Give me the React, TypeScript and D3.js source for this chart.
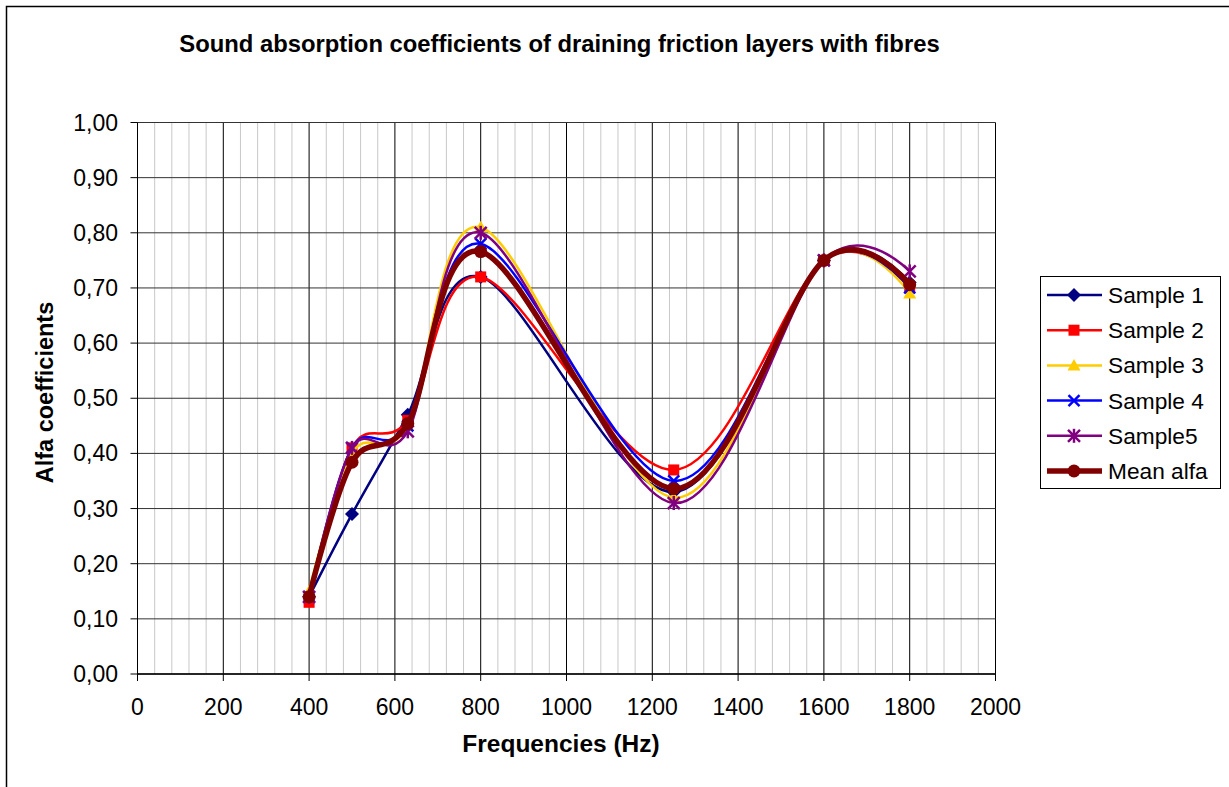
import React from "react";
import * as d3 from "d3";

const frequencies = [400, 500, 630, 800, 1250, 1600, 1800];
const sample1 = [0.14, 0.29, 0.47, 0.72, 0.33, 0.75, 0.71];
const sample2 = [0.13, 0.41, 0.46, 0.72, 0.37, 0.75, 0.70];
const sample3 = [0.15, 0.40, 0.45, 0.81, 0.32, 0.75, 0.69];
const sample4 = [0.14, 0.41, 0.45, 0.78, 0.35, 0.75, 0.70];
const sample5 = [0.14, 0.41, 0.44, 0.80, 0.31, 0.75, 0.73];
const meanAlfa = [0.14, 0.384, 0.454, 0.766, 0.336, 0.75, 0.706];
const seriesNames = ["Sample 1", "Sample 2", "Sample 3", "Sample 4", "Sample5", "Mean alfa"];
const xTicks = [0, 200, 400, 600, 800, 1000, 1200, 1400, 1600, 1800, 2000];
const yTicks = [0, 0.1, 0.2, 0.3, 0.4, 0.5, 0.6, 0.7, 0.8, 0.9, 1.0];

const W = 1229;
const H = 787;
const FONT = "'Liberation Sans', Arial, sans-serif";

const styles = [
  { color: "#000080", marker: "diamond", width: 2.5 },
  { color: "#FF0000", marker: "square", width: 2.5 },
  { color: "#FFCC00", marker: "triangle", width: 2.5 },
  { color: "#0000FF", marker: "x", width: 2.5 },
  { color: "#800080", marker: "star", width: 2.5 },
  { color: "#800000", marker: "circle", width: 5.5 },
];
const allValues = [sample1, sample2, sample3, sample4, sample5, meanAlfa];

function Marker({ type, cx, cy, color }: { type: string; cx: number; cy: number; color: string }) {
  switch (type) {
    case "diamond":
      return <path d={`M${cx},${cy - 7}L${cx + 7},${cy}L${cx},${cy + 7}L${cx - 7},${cy}Z`} fill={color} />;
    case "square":
      return <rect x={cx - 5.5} y={cy - 5.5} width={11} height={11} fill={color} />;
    case "triangle":
      return <path d={`M${cx},${cy - 6.5}L${cx + 6.5},${cy + 5}L${cx - 6.5},${cy + 5}Z`} fill={color} />;
    case "x":
      return (
        <g stroke={color} strokeWidth={2.5}>
          <line x1={cx - 5.5} y1={cy - 5.5} x2={cx + 5.5} y2={cy + 5.5} />
          <line x1={cx - 5.5} y1={cy + 5.5} x2={cx + 5.5} y2={cy - 5.5} />
        </g>
      );
    case "star":
      return (
        <g stroke={color} strokeWidth={2.5}>
          <line x1={cx - 6} y1={cy - 6} x2={cx + 6} y2={cy + 6} />
          <line x1={cx - 6} y1={cy + 6} x2={cx + 6} y2={cy - 6} />
          <line x1={cx} y1={cy - 7} x2={cx} y2={cy + 7} />
        </g>
      );
    default:
      return <circle cx={cx} cy={cy} r={6.5} fill={color} />;
  }
}

export default function App() {
  const x = d3.scaleLinear().domain([0, 2000]).range([137.5, 995.5]);
  const y = d3.scaleLinear().domain([0, 1]).range([674, 122.5]);
  const minorTicks = d3.range(0, 2001, 40).filter((v) => v % 200 !== 0);
  const line = d3
    .line<[number, number]>()
    .x((d) => x(d[0]))
    .y((d) => y(d[1]))
    .curve(d3.curveCardinal.tension(0));
  const fmt = (v: number) => v.toFixed(2).replace(".", ",");
  const legendX = 1040.5;
  const legendY = 276.5;
  const rowY = (i: number) => 295 + i * 35.2;

  return (
    <svg
      width={W}
      height={H}
      style={{ position: "absolute", left: 0, top: 0, background: "#fff" }}
      fontFamily={FONT}
    >
      <rect x={6.5} y={6.5} width={1300} height={900} fill="#fff" stroke="#000" strokeWidth={1.5} />
      <text x={559.5} y={52} textAnchor="middle" fontSize={23.8} fontWeight="bold">
        Sound absorption coefficients of draining friction layers with fibres
      </text>

      {/* plot area */}
      <rect x={x(0)} y={y(1)} width={x(2000) - x(0)} height={y(0) - y(1)} fill="#fff" />
      {minorTicks.map((t) => (
        <line key={"m" + t} x1={x(t)} x2={x(t)} y1={y(0)} y2={y(1)} stroke="#c8c8c8" strokeWidth={1} />
      ))}
      {xTicks.map((t) => (
        <line key={"vx" + t} x1={x(t)} x2={x(t)} y1={y(0)} y2={y(1)} stroke="#000" strokeWidth={1} />
      ))}
      {yTicks.map((t) => (
        <line key={"hy" + t} x1={x(0)} x2={x(2000)} y1={y(t)} y2={y(t)} stroke="#333" strokeWidth={1} />
      ))}

      {/* axes */}
      <line x1={x(0)} x2={x(0)} y1={y(0)} y2={y(1)} stroke="#000" strokeWidth={1} />
      <line x1={x(0)} x2={x(2000)} y1={y(0)} y2={y(0)} stroke="#000" strokeWidth={1.5} />
      {xTicks.map((t) => (
        <g key={"xt" + t}>
          <line x1={x(t)} x2={x(t)} y1={y(0)} y2={y(0) + 7} stroke="#000" />
          <text x={x(t)} y={715} textAnchor="middle" fontSize={23}>
            {t}
          </text>
        </g>
      ))}
      {yTicks.map((t) => (
        <g key={"yt" + t}>
          <line x1={x(0) - 7} x2={x(0)} y1={y(t)} y2={y(t)} stroke="#000" />
          <text x={118} y={y(t) + 8} textAnchor="end" fontSize={23}>
            {fmt(t)}
          </text>
        </g>
      ))}

      <text x={561} y={752} textAnchor="middle" fontSize={24.5} fontWeight="bold">
        Frequencies (Hz)
      </text>
      <text transform="translate(53,392.5) rotate(-90)" textAnchor="middle" fontSize={23.5} fontWeight="bold">
        Alfa coefficients
      </text>

      {/* series */}
      {allValues.map((vals, si) => {
        const pts = frequencies.map((f, i) => [f, vals[i]] as [number, number]);
        const st = styles[si];
        return (
          <g key={"s" + si}>
            <path d={line(pts) || ""} fill="none" stroke={st.color} strokeWidth={st.width} />
            {pts.map((p, i) => (
              <Marker key={i} type={st.marker} cx={x(p[0])} cy={y(p[1])} color={st.color} />
            ))}
          </g>
        );
      })}

      {/* legend */}
      <rect x={legendX} y={legendY} width={180} height={212} fill="#fff" stroke="#000" strokeWidth={1} />
      {seriesNames.map((name, i) => {
        const st = styles[i];
        const cy = rowY(i);
        return (
          <g key={"l" + i}>
            <line x1={1047} x2={1102} y1={cy} y2={cy} stroke={st.color} strokeWidth={st.width} />
            <Marker type={st.marker} cx={1074} cy={cy} color={st.color} />
            <text x={1108} y={cy + 8} fontSize={22.7}>
              {name}
            </text>
          </g>
        );
      })}
    </svg>
  );
}
